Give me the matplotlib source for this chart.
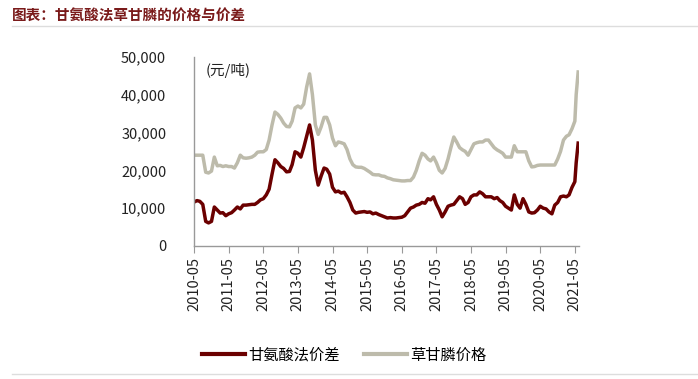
import matplotlib
matplotlib.use("Agg")
import matplotlib.pyplot as plt
import pandas as pd
from matplotlib.lines import Line2D

plt.rcParams['font.family'] = ['Noto Sans CJK SC', 'DejaVu Sans']

# monthly data 2010-05 .. 2021-04, then a few points for the final surge
months = pd.date_range("2010-05-01", "2021-04-01", freq="MS")
extra_dates = pd.to_datetime(["2021-05-01", "2021-05-15", "2021-06-05"])
dates = list(months) + list(extra_dates)

glyphosate_price = [
    24000, 24000, 24000, 24000, 19500, 19300, 19800, 23500, 21200, 21300,
    21000, 21200, 21000, 21000, 20600, 22000, 24000, 23300, 23200, 23300,
    23500, 24000, 24800, 24900, 24900, 25500, 28000, 32000, 35400, 34800,
    33800, 32500, 31600, 31500, 33000, 36500, 37000, 36500, 37500, 42000,
    45500, 40000, 32000, 29500, 31500, 34000, 34000, 32000, 28500, 26500,
    27500, 27300, 27000, 25500, 23000, 21500, 20900, 20800, 20800, 20500,
    20000, 19500, 18900, 18800, 18800, 18500, 18400, 18000, 17800, 17500,
    17400, 17300, 17200, 17200, 17300, 17300, 18200, 20000, 22500, 24500,
    24000, 23000, 22500, 23500, 22000, 20000, 19300, 20500, 23000, 26000,
    28800, 27500, 26000, 25400, 25000, 24000, 25500, 27000, 27300, 27500,
    27500, 28000, 28000, 27000, 26000, 25400, 25000, 24500, 23500, 23500,
    23500, 26500, 24900, 24900, 24900, 24900, 22500, 20900, 21000, 21300,
    21400, 21400, 21400, 21400, 21400, 21400, 23000, 25000, 28000, 29000,
    29400, 31000,
    33000, 40000, 46000,
]

glycine_spread = [
    11600, 12000, 11800, 11000, 6500, 6100, 6500, 10300, 9500, 8700,
    8800, 8000, 8500, 8800, 9500, 10300, 9800, 10800, 10800, 10900,
    11000, 11000, 11500, 12200, 12500, 13500, 15000, 19000, 22800, 22000,
    21000, 20500, 19600, 19700, 21500, 24900, 24500, 23500, 26000, 29000,
    32000, 28000, 20000, 16100, 18500, 20600, 20300, 19000, 15500, 14300,
    14500, 14000, 14200, 13000, 11500, 9500, 8700, 8900, 9000, 9100,
    8900, 9000, 8500, 8700, 8300, 8000, 7700, 7400, 7500, 7400,
    7400, 7500, 7600, 8000, 9000, 10000, 10300, 10800, 11000, 11500,
    11300, 12500, 12200, 13000, 11000, 9500, 7700, 9000, 10500, 10800,
    11000, 12000, 13000, 12500, 11000, 11500, 13000, 13500, 13500, 14300,
    13800, 13000, 13000, 13000, 12500, 12800, 12000, 11500, 10500, 10000,
    9500, 13500, 11000, 10000, 12500, 11000, 9000, 8700, 8800, 9500,
    10500, 10000, 9800, 9000, 8500, 10800, 11500, 13000, 13200, 13000,
    13500, 15500,
    17000, 22000, 27200,
]

tick_labels = [f"{y}-05" for y in range(2010, 2022)]
tick_dates = pd.to_datetime([f"{y}-05-01" for y in range(2010, 2022)])

red = "#6b0000"
gray = "#bdbbab"

fig = plt.figure(figsize=(6.98, 3.79), dpi=100)
ax = fig.add_axes([0.278, 0.351, 0.551, 0.499])

ax.plot(dates, glyphosate_price, color=gray, lw=2.5, solid_joinstyle='round')
ax.plot(dates, glycine_spread, color=red, lw=2.5, solid_joinstyle='round')

ax.set_ylim(0, 50000)
ax.set_yticks(range(0, 50001, 10000))
ax.set_yticklabels([f"{v:,}" for v in range(0, 50001, 10000)], fontsize=10.5, color="#222222")
ax.set_xlim(pd.Timestamp("2010-05-01"), pd.Timestamp("2021-06-10"))
ax.set_xticks(tick_dates)
ax.set_xticklabels(tick_labels, rotation=90, fontsize=10.5, color="#222222")

for s in ["top", "right"]:
    ax.spines[s].set_visible(False)
for s in ["left", "bottom"]:
    ax.spines[s].set_color("#999999")
    ax.spines[s].set_linewidth(1.0)
ax.tick_params(axis='y', length=0, pad=20)
ax.tick_params(axis='x', length=5, color="#999999", direction='out', pad=3)

ax.text(0.03, 0.93, "(元/吨)", transform=ax.transAxes, fontsize=10.5, color="#222222",
        va='center', ha='left')

# title
fig.text(12/698, 1-15/379, "图表：甘氨酸法草甘膦的价格与价差", fontsize=10.5,
         fontweight='bold', color="#7a1a1a", va='center', ha='left')
fig.add_artist(Line2D([12/698, 1.0], [1-26/379, 1-26/379], color="#dddddd", lw=1.0))
fig.add_artist(Line2D([12/698, 1.0], [1-374/379, 1-374/379], color="#dddddd", lw=1.0))

handles = [Line2D([0], [0], color=red, lw=3), Line2D([0], [0], color=gray, lw=3)]
fig.legend(handles, ["甘氨酸法价差", "草甘膦价格"], loc='center', ncol=2,
           bbox_to_anchor=(344/698, 1-355/379), frameon=False, fontsize=11,
           handlelength=2.8, handletextpad=0.2, columnspacing=1.6)

fig.savefig("out.png", dpi=100)
